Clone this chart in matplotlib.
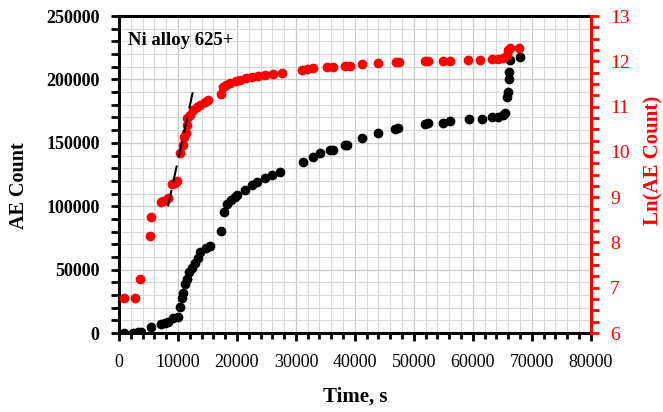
import numpy as np
import matplotlib
matplotlib.use("Agg")
import matplotlib.pyplot as plt
from matplotlib.ticker import MultipleLocator

plt.rcParams['font.family'] = ['Liberation Serif', 'DejaVu Serif']

# AE count vs time (left axis)
t_count = [850, 2400, 3200, 3700, 5400, 7100, 7800, 8300, 9200, 10000, 10300, 10700,
           10900, 11200, 11500, 11900, 12300, 12900, 13400, 13700, 14700, 15400, 17300,
           17800, 18300, 19000, 19700, 20000, 21400, 22500, 23400, 24800, 26000, 27300,
           31200, 32900, 34100, 35800, 36300, 38300, 38600, 41200, 43900, 46800, 47300,
           51900, 52400, 54900, 56100, 59300, 61500, 63200, 64200, 65100, 65400, 65800,
           65900, 66100, 66100, 66300, 68000]
ae_count = [0, 0, 1000, 1000, 5000, 7000, 8000, 8600, 12000, 12600, 20500, 27500,
            31500, 39000, 43000, 48000, 51000, 55000, 59000, 64000, 67000, 68500, 80500,
            95500, 102000, 105000, 107500, 109000, 113000, 116500, 119000, 122000, 124500, 127000,
            135000, 139000, 142000, 144500, 144000, 148000, 148500, 154000, 157500, 161000, 162000,
            165000, 165500, 166000, 167000, 168500, 169000, 170000, 170500, 172000, 173500, 186000,
            190000, 200000, 206000, 215000, 217500]

# Ln(AE count) vs time (right axis)
t_ln = [850, 2700, 3600, 5300, 5400, 7100, 7500, 8300, 9000, 9500, 9900, 10300,
        10800, 11000, 11400, 11500, 11600, 12000, 12600, 13200, 13700, 14600, 15100,
        17300, 17700, 18100, 18900, 19800, 20500, 21600, 22500, 23600, 24800, 26100,
        27600, 31000, 31800, 32900, 35200, 36300, 38300, 39200, 41200, 43900, 47000,
        47400, 51900, 52400, 54900, 56100, 59200, 61300, 63200, 64200, 65100, 65800,
        66000, 66300, 67800]
ln_count = [6.77, 6.77, 7.19, 8.14, 8.56, 8.89, 8.91, 8.98, 9.29, 9.31, 9.36, 9.97,
            10.15, 10.33, 10.41, 10.59, 10.75, 10.81, 10.92, 10.99, 11.03, 11.10, 11.14,
            11.28, 11.43, 11.48, 11.52, 11.57, 11.59, 11.63, 11.66, 11.68, 11.70, 11.72,
            11.74, 11.81, 11.83, 11.85, 11.87, 11.87, 11.89, 11.90, 11.94, 11.96, 11.98,
            11.98, 12.00, 12.00, 12.01, 12.01, 12.03, 12.03, 12.05, 12.05, 12.07, 12.14,
            12.25, 12.29, 12.29]

# linear fit guide over the steep part
fit_t = [8300, 12700]
fit_ln = [8.80, 11.43]

fig = plt.figure(figsize=(6.63, 4.12), dpi=100)
ax = fig.add_axes([0.1795, 0.1917, 0.7115, 0.7693])

ax.set_xlim(0, 80000)
ax.set_ylim(0, 250000)
ax.xaxis.set_major_locator(MultipleLocator(10000))
ax.xaxis.set_minor_locator(MultipleLocator(2000))
ax.yaxis.set_major_locator(MultipleLocator(50000))
ax.yaxis.set_minor_locator(MultipleLocator(10000))
ax.grid(which='major', color='#c8c8c8', lw=0.9)
ax.grid(which='minor', color='#d8d8d8', lw=0.8)
ax.set_axisbelow(True)
ax.tick_params(which='major', direction='out', length=6, width=2, labelsize=13)
ax.tick_params(which='minor', direction='out', length=4, width=2)
ax.tick_params(axis='y', which='minor', length=6)
ax.tick_params(axis='y', which='major', pad=8)
ax.tick_params(axis='x', which='major', pad=9)
for lbl in ax.get_yticklabels():
    lbl.set_fontweight('bold')
for s in ['left', 'bottom', 'top']:
    ax.spines[s].set_linewidth(2.2)
ax.spines['right'].set_visible(False)

ax.scatter(t_count, ae_count, s=36, color='black', zorder=3)
ax.set_xlabel('Time, s', fontsize=15, fontweight='bold', labelpad=11)
ax.text(1500, 231000, 'Ni alloy 625+', fontsize=13.5, fontweight='bold', va='center')

ax2 = ax.twinx()
ax2.set_ylim(6, 13)
ax2.yaxis.set_major_locator(MultipleLocator(1))
ax2.yaxis.set_minor_locator(MultipleLocator(0.25))
ax2.tick_params(which='both', direction='out', colors='red', width=2, labelsize=14, length=6)
ax2.tick_params(which='major', pad=8)
for s in ['left', 'bottom', 'top']:
    ax2.spines[s].set_visible(False)
ax2.spines['right'].set_color('red')
ax2.spines['right'].set_linewidth(2.2)
ax2.scatter(t_ln, ln_count, s=36, color='red', zorder=3)
ax2.plot(fit_t, fit_ln, color='black', lw=1.5, ls=(0, (8, 4)), zorder=4)

# axis titles placed in figure coordinates
fig.text(19 / 663, 1 - 186 / 412, 'AE Count', rotation=90, ha='center', va='center',
         fontsize=14.5, fontweight='bold')
fig.text(653 / 663, 1 - 160 / 412, 'Ln(AE Count)', rotation=90, ha='center', va='center',
         fontsize=15, fontweight='bold', color='red')

fig.savefig('out.png', dpi=100)
